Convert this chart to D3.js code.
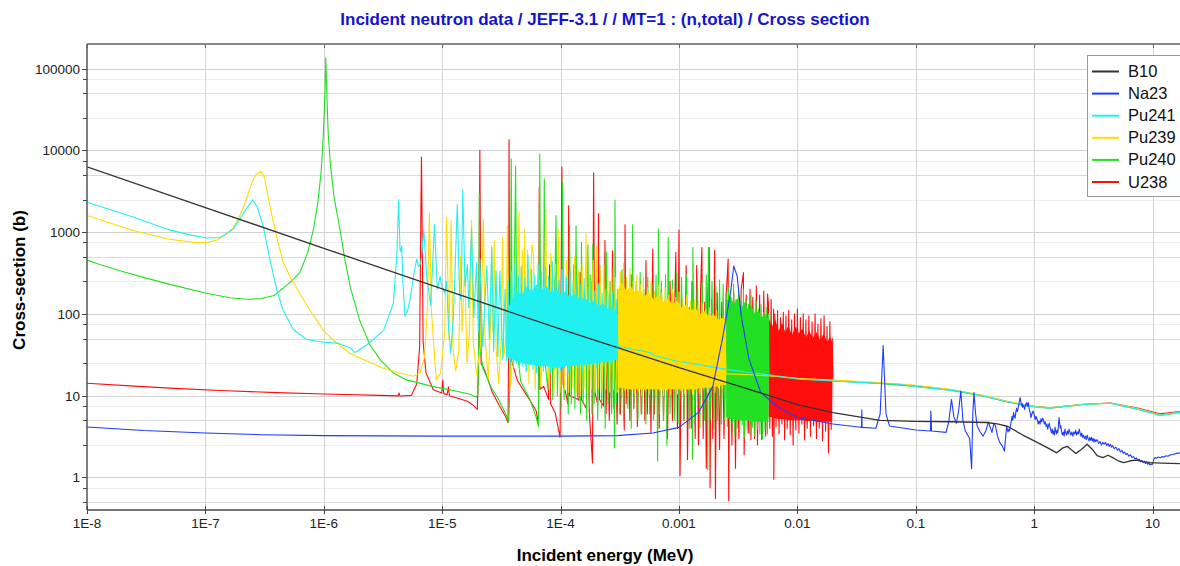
<!DOCTYPE html>
<html>
  <head>
    <title>Incident neutron data / JEFF-3.1 / MT=1</title>
    <!-- Load D3 from site -->
    <script src="https://d3js.org/d3.v7.min.js" charset="utf-8"></script>
    <style type="text/css">
      body { margin: 0; background: #fff; }
      text { font-family: "Liberation Sans", Arial, sans-serif; }
      .tick-label { font-size: 13.5px; fill: #222; }
      .legend-label { font-size: 16.5px; fill: #111; }
    </style>
  </head>

  <body>
    <script type="text/javascript">

      // ---- data (energy in MeV, cross-section in barns) ----
      var seriesNames = ["B10", "Na23", "Pu241", "Pu239", "Pu240", "U238"];

      var xTickValues = [1e-8, 1e-7, 1e-6, 1e-5, 1e-4, 1e-3, 1e-2, 0.1, 1, 10];
      var xTickLabels = ["1E-8", "1E-7", "1E-6", "1E-5", "1E-4", "0.001", "0.01", "0.1", "1", "10"];
      var yTickValues = [1, 10, 100, 1000, 10000, 100000];
      var yTickLabels = ["1", "10", "100", "1000", "10000", "100000"];

      var b10 = [[1e-8,6300],[1e-7,2000],[1e-6,635],[1e-5,202],[1e-4,65],[1e-3,22],[3e-3,13.5],[0.01,7.8],
        [0.02,6.2],[0.05,5.0],[0.1,4.85],[0.2,4.8],[0.4,4.7],[0.5,4.5],[0.6,4.2],[0.8,3.3],[1.0,2.8],[1.3,2.3],
        [1.55,2.0],[1.75,2.3],[1.9,2.4],[2.05,2.2],[2.25,1.97],[2.5,2.2],[2.8,2.55],[3.1,2.2],[3.4,1.85],[3.8,1.75],
        [4.2,1.87],[4.7,1.72],[5.2,1.58],[5.7,1.52],[6.5,1.6],[7.3,1.63],[8.3,1.56],[9.6,1.52],[12,1.5],[17,1.48]];

      var na23 = [[1e-8,4.15],[3e-8,3.75],[1e-7,3.5],[3e-7,3.33],[1e-6,3.25],[1e-5,3.2],[1e-4,3.2],[3e-4,3.25],
        [6e-4,3.5],[1e-3,4.1],[1.47e-3,6.3],[1.93e-3,13],[2.35e-3,53],[2.73e-3,185],[2.9e-3,385],[3.1e-3,290],
        [3.35e-3,95],[3.9e-3,28],[4.9e-3,11],[6.9e-3,7.2],[1e-2,5.4],[2e-2,4.5],[3.3e-2,4.15],[3.48e-2,4.1],
        [3.5e-2,6.7],[3.52e-2,4.1],[4.6e-2,4.0],[5.0e-2,6],[5.3e-2,41],[5.6e-2,6],[6.0e-2,4.25],[0.1,3.8],
        [0.133,3.7],[0.134,6.5],[0.136,3.7],[0.18,3.56],[0.19,4.8],[0.2,9.0],[0.21,5.5],[0.22,4.6],[0.23,6.5],
        [0.24,11.4],[0.25,5],[0.262,3.7],[0.285,3.0],[0.296,1.28],[0.303,6],[0.31,10.9],[0.32,6],[0.33,4.25],
        [0.35,3.6],[0.37,3.2],[0.39,3.7],[0.41,4.76],[0.43,3.9],[0.44,3.56],[0.455,4.5],[0.47,4.3],[0.49,3.2],
        [0.51,2.7],[0.54,2.4],[0.56,2.1],[0.575,3.2],[0.585,4.2],[0.6,3.6],[0.61,3.9],[0.62,3.7],[0.635,4.6],
        [0.65,5.6],[0.66,5.0],[0.67,6.2],[0.68,5.6],[0.69,5.3],[0.7,6.3],[0.71,7.0],[0.72,6.4],[0.73,6.9],
        [0.745,8.2],[0.76,9.5],[0.77,8.6],[0.78,7.5],[0.79,8.0],[0.8,7.2],[0.815,7.6],[0.83,6.8],[0.845,7.7],
        [0.86,8.2],[0.875,7.4],[0.89,8.3],[0.905,7.0],[0.92,6.4],[0.93,6.0],[0.94,5.4],[0.96,6.1],[0.98,6.5],
        [1.0,5.8],[1.02,5.1],[1.035,5.6],[1.05,5.3],[1.07,4.9],[1.08,4.5],[1.1,4.9],[1.12,4.5],[1.14,5.2],
        [1.16,4.8],[1.18,5.3],[1.2,5.0],[1.22,4.5],[1.24,4.8],[1.26,4.2],[1.28,4.5],[1.3,3.9],[1.32,4.3],
        [1.34,4.6],[1.36,4.1],[1.38,3.8],[1.4,3.5],[1.42,3.9],[1.44,3.4],[1.46,3.7],[1.48,3.3],[1.5,4.1],
        [1.52,3.7],[1.54,3.4],[1.56,3.8],[1.58,3.5],[1.6,4.2],[1.62,5.4],[1.64,4.6],[1.66,4.0],[1.68,4.3],
        [1.7,3.7],[1.73,3.3],[1.76,3.6],[1.79,3.2],[1.82,3.9],[1.85,3.5],[1.88,3.3],[1.91,3.7],[1.94,3.4],
        [1.97,3.9],[2.0,3.6],[2.04,3.3],[2.08,3.6],[2.12,3.2],[2.16,3.6],[2.2,3.4],[2.24,3.8],[2.28,3.3],
        [2.32,3.6],[2.36,3.4],[2.4,3.9],[2.44,3.5],[2.48,3.2],[2.52,3.5],[2.56,3.1],[2.6,3.3],[2.65,3.0],
        [2.7,3.2],[2.75,2.9],[2.8,3.3],[2.85,3.0],[2.9,2.8],[2.95,3.1],[3.0,2.85],[3.05,3.1],[3.1,2.8],
        [3.15,3.0],[3.2,2.7],[3.25,2.95],[3.3,2.75],[3.4,2.9],[3.5,2.6],[3.6,2.75],[3.7,2.5],[3.8,2.7],
        [3.9,2.55],[4.0,2.7],[4.1,2.45],[4.2,2.6],[4.3,2.4],[4.4,2.55],[4.5,2.35],[4.6,2.45],[4.75,2.25],
        [4.9,2.35],[5.05,2.15],[5.2,2.25],[5.35,2.05],[5.5,2.15],[5.65,1.98],[5.8,2.05],[5.95,1.9],[6.1,1.97],
        [6.3,1.82],[6.5,1.9],[6.7,1.75],[6.9,1.8],[7.1,1.68],[7.3,1.74],[7.5,1.62],[7.7,1.68],[7.9,1.56],
        [8.1,1.62],[8.3,1.52],[8.5,1.58],[8.7,1.48],[8.9,1.54],[9.1,1.45],[9.3,1.5],[9.5,1.42],[9.7,1.47],
        [9.9,1.43],[10.1,1.55],[10.3,1.7],[10.5,1.76],[10.8,1.72],[11.2,1.78],[11.6,1.74],[12,1.8],[12.5,1.78],
        [13,1.84],[13.5,1.82],[14,1.88],[15,1.92],[16,1.97],[17,2.0]];

      var pu241 = [[1e-8,2320],[2.45e-8,1530],[4.7e-8,1090],[7.5e-8,920],[1.03e-7,850],[1.33e-7,860],
        [1.72e-7,1090],[2.22e-7,1930],[2.5e-7,2480],[2.75e-7,2000],[3.07e-7,1200],[3.5e-7,470],[4e-7,200],
        [4.5e-7,114],[5.5e-7,65],[7.1e-7,49],[9.9e-7,45],[1.3e-6,44],[1.56e-6,40],[1.7e-6,38],[1.84e-6,33.7],
        [2.3e-6,41.7],[3.2e-6,63],[3.87e-6,135],[4.13e-6,506],[4.29e-6,2490],[4.4e-6,610],[4.47e-6,580],
        [4.55e-6,680],[4.65e-6,250],[4.85e-6,94],[5.1e-6,110],[5.35e-6,150],[5.8e-6,330],[6.1e-6,470],
        [6.3e-6,380],[6.6e-6,420],[7.0e-6,1050],[7.4e-6,280],[8.0e-6,128],[8.6e-6,1230],[9.1e-6,200],
        [9.6e-6,288],[9.9e-6,220],[1.05e-5,180],[1.09e-5,250],[1.13e-5,70],[1.18e-5,33],[1.24e-5,90],
        [1.28e-5,290],[1.34e-5,2170],[1.4e-5,180],[1.45e-5,150],[1.49e-5,3320],[1.56e-5,220],[1.63e-5,400],
        [1.68e-5,120],[1.77e-5,1100],[1.85e-5,90],[1.95e-5,420],[2.02e-5,60],[2.08e-5,470],[2.2e-5,40],
        [2.38e-5,390],[2.5e-5,50],[2.62e-5,650],[2.72e-5,35],[2.85e-5,340],[2.95e-5,30],[3.07e-5,335],
        [3.25e-5,28],[3.4e-5,200],
        [3.5e-5,27],[3.6e-5,260],[3.75e-5,24],[3.85e-5,330],[4.0e-5,22],[4.1e-5,420],[4.25e-5,25],[4.4e-5,300],
        [4.5e-5,21],[4.65e-5,380],[4.8e-5,23],[5.0e-5,280],[5.15e-5,20],[5.3e-5,520],[5.5e-5,24],[5.7e-5,350],
        [5.85e-5,21],[6.05e-5,300],[6.25e-5,19],[6.45e-5,420],[6.7e-5,22],[6.9e-5,330],[7.15e-5,20],[7.4e-5,380],
        [7.65e-5,23],[7.9e-5,290],[8.2e-5,19],[8.5e-5,440],[8.8e-5,21],[9.1e-5,320],[9.4e-5,22],[9.7e-5,260],
        [1.0e-4,20],[1.04e-4,350],[1.08e-4,22],[1.12e-4,280],[1.16e-4,19],[1.2e-4,330],[1.24e-4,23],[1.28e-4,250],
        [1.33e-4,21],[1.38e-4,300],[1.43e-4,22],[1.48e-4,230],[1.53e-4,20],[1.58e-4,270],[1.64e-4,23],[1.7e-4,210],
        [1.76e-4,21],[1.82e-4,250],[1.88e-4,24],[1.95e-4,190],[2.02e-4,22],[2.09e-4,230],[2.16e-4,25],[2.24e-4,180],
        [2.32e-4,23],[2.4e-4,200],[2.48e-4,26],[2.57e-4,170],[2.66e-4,24],[2.75e-4,185],[2.85e-4,27],[2.95e-4,150],
        [3.05e-4,40],[5.7e-4,33.7],[6.2e-4,31],[9.5e-4,26.6],[1.47e-3,24],[2.5e-3,21],[3.9e-3,19.2],[6.9e-3,17.4],
        [0.01,16],[0.028,14.7],[0.073,13.8],[0.1,12.9],[0.23,11.4],[0.37,9.9],[0.67,8.1],[0.98,7.35],[1.35,7.05],
        [2.6,7.8],[4.4,8.1],[7.6,6.8],[11.5,5.75],[17,6.3]];
      var pu241Band = [[3.5e-5,30,110],[3.9e-5,28,150],[4.3e-5,26,190],[4.7e-5,25,170],[5.2e-5,24,220],
        [5.7e-5,24,190],[6.3e-5,23,230],[6.9e-5,23,200],[7.6e-5,23,215],[8.4e-5,22,185],[9.2e-5,22,205],
        [1.0e-4,22,175],[1.1e-4,23,190],[1.2e-4,23,160],[1.32e-4,23,175],[1.45e-4,24,150],[1.6e-4,24,160],
        [1.75e-4,24,135],[1.9e-4,25,145],[2.1e-4,25,125],[2.3e-4,26,135],[2.5e-4,26,115],[2.75e-4,27,120],
        [3.05e-4,28,100]];

      var pu239 = [[1e-8,1600],[2.45e-8,1050],[4.7e-8,830],[7.9e-8,750],[1.03e-7,745],[1.25e-7,800],[1.5e-7,950],
        [1.72e-7,1130],[2.0e-7,1700],[2.22e-7,2560],[2.5e-7,4200],[2.7e-7,5150],[2.95e-7,5550],[3.15e-7,4700],
        [3.4e-7,2600],[3.7e-7,1450],[4.1e-7,750],[4.55e-7,425],[5.3e-7,270],[6.3e-7,175],[7.5e-7,115],[8.7e-7,84],
        [1.0e-6,62],[1.2e-6,48],[1.66e-6,33],[2.3e-6,26.5],[3.18e-6,21.7],[4.4e-6,18.9],[5.7e-6,17.3],[6.5e-6,18.9],
        [7.1e-6,30],[7.5e-6,120],[7.8e-6,1700],[8.1e-6,110],[8.9e-6,15.6],[9.7e-6,19],[1.05e-5,60],[1.09e-5,1520],
        [1.14e-5,50],[1.19e-5,1400],[1.23e-5,40],[1.3e-5,20],[1.38e-5,35],[1.43e-5,515],[1.47e-5,60],[1.55e-5,390],
        [1.62e-5,25],[1.7e-5,60],[1.77e-5,1390],[1.83e-5,45],[1.95e-5,18],[2.1e-5,40],[2.23e-5,1450],[2.3e-5,50],
        [2.45e-5,16],[2.55e-5,60],[2.62e-5,680],[2.68e-5,60],[2.75e-5,790],[2.85e-5,40],[3.0e-5,14],[3.15e-5,50],
        [3.23e-5,870],[3.32e-5,30],[3.45e-5,50],[3.55e-5,1200],[3.65e-5,40],[3.8e-5,13],[4.0e-5,60],[4.15e-5,500],
        [4.25e-5,30],[4.45e-5,1760],[4.6e-5,30],[4.76e-5,600],[4.88e-5,25],[4.97e-5,1090],[5.1e-5,20],[5.26e-5,600],
        [5.4e-5,14],[5.56e-5,300],[5.74e-5,700],[5.92e-5,500],[6.1e-5,12],[6.3e-5,100],[6.54e-5,400],[6.8e-5,13],
        [7.2e-5,60],[7.49e-5,1900],[7.7e-5,40],[8.0e-5,12],[8.26e-5,550],[8.54e-5,300],[8.8e-5,11],[9.08e-5,400],
        [9.3e-5,20],[9.65e-5,1090],[9.9e-5,11],[1.03e-4,350],[1.08e-4,12],[1.12e-4,450],[1.17e-4,11],[1.22e-4,300],
        [1.27e-4,12],[1.31e-4,500],[1.36e-4,11],[1.42e-4,350],[1.47e-4,10],[1.52e-4,400],[1.58e-4,12],[1.64e-4,960],
        [1.7e-4,11],[1.76e-4,300],[1.82e-4,12],[1.88e-4,450],[1.95e-4,11],[2.02e-4,680],[2.09e-4,12],[2.16e-4,350],
        [2.24e-4,11],[2.32e-4,400],[2.4e-4,12],[2.5e-4,300],[2.6e-4,11],[2.7e-4,380],[2.8e-4,12],[2.9e-4,280],
        [3.0e-4,11],
        [3.1e-4,12],[3.2e-4,330],[3.3e-4,10.5],[3.4e-4,420],[3.5e-4,11.5],[3.6e-4,280],[3.7e-4,10],[3.85e-4,360],
        [4.0e-4,12],[4.1e-4,250],[4.25e-4,10.5],[4.4e-4,300],[4.55e-4,11.5],[4.7e-4,230],[4.85e-4,10],[5.0e-4,280],
        [5.2e-4,11.5],[5.4e-4,210],[5.6e-4,10.5],[5.8e-4,250],[6.0e-4,12],[6.2e-4,190],[6.4e-4,10.5],[6.65e-4,230],
        [6.9e-4,11.5],[7.15e-4,180],[7.4e-4,10],[7.65e-4,210],[7.9e-4,11.5],[8.2e-4,170],[8.5e-4,10.5],[8.8e-4,200],
        [9.1e-4,12],[9.4e-4,160],[9.7e-4,10.5],[1.0e-3,185],[1.04e-3,11.5],[1.08e-3,150],[1.12e-3,10.5],[1.16e-3,170],
        [1.2e-3,12],[1.25e-3,140],[1.3e-3,10.5],[1.35e-3,150],[1.4e-3,11.5],[1.45e-3,125],[1.5e-3,10.5],[1.56e-3,135],
        [1.62e-3,12],[1.68e-3,115],[1.74e-3,11],[1.8e-3,120],[1.87e-3,12],[1.94e-3,100],[2.01e-3,11],[2.08e-3,110],
        [2.16e-3,12.5],[2.24e-3,95],[2.32e-3,12],[2.41e-3,90],
        [2.5e-3,18.5],[4e-3,18],[7e-3,17.2],[0.01,16.3],[0.02,15.5],[0.05,14.5],[0.1,13.4],[0.2,11.9],[0.37,10.1],
        [0.6,8.5],[1,7.4],[1.35,7.1],[2.6,7.85],[4.4,8.1],[7.6,6.9],[11.5,5.85],[17,6.25]];
      var pu239Band = [[3.05e-4,12.5,200],[3.3e-4,12.5,240],[3.6e-4,12,190],[3.9e-4,12,220],[4.3e-4,12,180],
        [4.7e-4,12,200],[5.1e-4,12,165],[5.6e-4,12,185],[6.1e-4,12,150],[6.7e-4,12,170],[7.3e-4,12,140],
        [8e-4,12,155],[8.8e-4,12,130],[9.6e-4,12,145],[1.05e-3,12,120],[1.15e-3,12,130],[1.26e-3,12,110],
        [1.38e-3,12,118],[1.5e-3,12.5,100],[1.65e-3,12.5,108],[1.8e-3,12.5,92],[1.97e-3,13,98],[2.15e-3,13,85],
        [2.33e-3,13.5,90],[2.5e-3,13.5,80]];

      var pu240 = [[1e-8,455],[1.3e-8,400],[2e-8,330],[3e-8,280],[5e-8,230],[1e-7,180],[1.6e-7,158],[2.3e-7,151],
        [3e-7,154],[3.8e-7,168],[4.6e-7,210],[5.5e-7,262],[6.3e-7,325],[7.3e-7,560],[8.2e-7,1100],[8.9e-7,2300],
        [9.5e-7,5500],[9.9e-7,15000],[1.02e-6,45000],[1.04e-6,136000],[1.06e-6,50000],[1.09e-6,16000],
        [1.14e-6,6500],[1.22e-6,2700],[1.37e-6,1070],[1.5e-6,480],[1.67e-6,216],[2.0e-6,85],[2.45e-6,42],
        [3.0e-6,27.4],[3.9e-6,18.8],[5.0e-6,15.6],[8.4e-6,12.9],[1.3e-5,11.4],[1.72e-5,10.4],[1.95e-5,9.6],
        [2.0e-5,10.5],[2.035e-5,40],[2.055e-5,2950],[2.08e-5,40],[2.2e-5,22],[2.6e-5,12.5],[3.0e-5,9.0],
        [3.4e-5,6.2],[3.65e-5,4.9],[3.76e-5,20],[3.83e-5,7900],[3.9e-5,60],[4.02e-5,70],[4.17e-5,6400],
        [4.27e-5,40],[4.6e-5,15],[5.5e-5,9.0],[6.2e-5,5.5],[6.5e-5,4.2],[6.67e-5,9000],[6.8e-5,35],[7.15e-5,30],
        [7.28e-5,4500],[7.4e-5,25],
        [7.8e-5,12],[8.2e-5,300],[8.6e-5,9],[9.15e-5,1600],[9.4e-5,10],[9.8e-5,250],[1.01e-4,7],[1.04e-4,4100],
        [1.07e-4,9],[1.12e-4,300],[1.16e-4,6],[1.19e-4,1200],[1.23e-4,8],[1.29e-4,400],[1.32e-4,7],[1.35e-4,1200],
        [1.39e-4,9],[1.44e-4,250],[1.47e-4,6],[1.5e-4,750],[1.55e-4,8],[1.62e-4,200],[1.66e-4,5],[1.7e-4,700],
        [1.75e-4,7],[1.8e-4,300],[1.84e-4,6],[1.87e-4,700],[1.92e-4,8],[2.0e-4,250],[2.06e-4,5],[2.15e-4,400],
        [2.22e-4,7],[2.32e-4,200],[2.38e-4,4],[2.45e-4,570],[2.52e-4,8],[2.62e-4,250],[2.7e-4,6],[2.8e-4,180],
        [2.85e-4,2.3],[2.88e-4,2470],[2.95e-4,8],[3.05e-4,200],[3.15e-4,6],[3.3e-4,350],[3.4e-4,5],[3.55e-4,180],
        [3.7e-4,7],[3.85e-4,300],[3.95e-4,4],[4.06e-4,1230],[4.15e-4,7],[4.35e-4,250],[4.5e-4,5],[4.7e-4,320],
        [4.85e-4,6],[5.05e-4,200],[5.25e-4,4.5],[5.45e-4,280],[5.65e-4,6],[5.9e-4,230],[6.1e-4,5],[6.4e-4,300],
        [6.6e-4,1.6],[6.7e-4,1090],[6.85e-4,6],[7.1e-4,250],[7.4e-4,5],[7.7e-4,300],[7.9e-4,2.5],[8.1e-4,860],
        [8.4e-4,6],[8.8e-4,260],[9.2e-4,5],[9.6e-4,320],[1.0e-3,4.5],[1.05e-3,280],[1.1e-3,5],[1.16e-3,300],
        [1.22e-3,4],[1.28e-3,250],[1.3e-3,1.66],[1.31e-3,650],[1.36e-3,5],[1.43e-3,280],[1.5e-3,4],[1.57e-3,240],
        [1.64e-3,5],[1.7e-3,300],[1.75e-3,1.25],[1.77e-3,650],[1.83e-3,5],[1.9e-3,250],[1.97e-3,4],[2.05e-3,220],
        [2.12e-3,5],[2.2e-3,260],[2.28e-3,4.5],[2.36e-3,230],[2.44e-3,5],
        [2.5e-3,180],[2.56e-3,4.2],[2.62e-3,210],[2.68e-3,3.6],[2.75e-3,160],[2.82e-3,4.6],[2.89e-3,230],[2.96e-3,3.3],
        [3.03e-3,150],[3.1e-3,4.0],[3.18e-3,190],[3.26e-3,3.5],[3.34e-3,140],[3.42e-3,4.4],[3.5e-3,200],[3.59e-3,3.1],
        [3.68e-3,150],[3.77e-3,3.9],[3.86e-3,130],[3.96e-3,3.4],[4.06e-3,170],[4.16e-3,4.1],[4.26e-3,120],[4.37e-3,3.2],
        [4.48e-3,140],[4.59e-3,3.9],[4.7e-3,115],[4.82e-3,3.4],[4.94e-3,130],[5.06e-3,3.0],[5.19e-3,105],[5.32e-3,3.8],
        [5.45e-3,120],[5.58e-3,3.4],[5.7e-3,100],
        [5.75e-3,17.5],[0.01,16],[0.02,15.2],[0.05,14.1],[0.1,13.0],[0.2,11.6],[0.37,9.9],[0.6,8.4],[1.0,7.35],
        [1.35,7.05],[2.6,7.8],[4.4,8.1],[7.6,6.8],[11.5,5.75],[17,6.2]];
      var pu240Band = [[2.5e-3,5.5,140],[2.7e-3,5.2,170],[2.9e-3,5.2,130],[3.1e-3,5,155],[3.35e-3,5,120],
        [3.6e-3,5,140],[3.85e-3,5,110],[4.1e-3,4.8,125],[4.4e-3,4.8,100],[4.7e-3,4.8,110],[5e-3,4.8,92],
        [5.35e-3,4.8,100],[5.7e-3,4.8,85]];

      var u238 = [[1e-8,14.2],[2.5e-8,13.1],[6e-8,12.2],[1.5e-7,11.5],[4e-7,10.9],[1e-6,10.5],[3e-6,10.1],
        [4.25e-6,9.95],[4.32e-6,10.8],[4.4e-6,9.9],[5.5e-6,10.1],[6.1e-6,14],[6.45e-6,40],[6.6e-6,1500],
        [6.68e-6,8300],[6.76e-6,1500],[6.9e-6,45],[7.3e-6,19],[8.4e-6,11.8],[9.9e-6,10.8],[1.01e-5,15.5],
        [1.03e-5,10.6],[1.1e-5,10.3],[1.13e-5,12.8],[1.15e-5,10.0],[1.4e-5,9.2],[1.65e-5,8.5],[1.85e-5,7.5],
        [1.98e-5,6.8],[2.03e-5,25],[2.08e-5,10000],[2.13e-5,25],[2.3e-5,20],[2.65e-5,11],[3.05e-5,7.5],
        [3.4e-5,5.7],[3.6e-5,4.7],[3.64e-5,45],[3.67e-5,13500],[3.71e-5,45],[3.85e-5,27],[4.3e-5,15.5],
        [4.8e-5,12],[5.5e-5,8.8],[6.2e-5,6.6],[6.5e-5,4.6],[6.6e-5,3500],[6.7e-5,12],[7.2e-5,13],[7.9e-5,9],
        [8.07e-5,400],[8.2e-5,8],[9.0e-5,6.2],[9.9e-5,3.1],[1.025e-4,6250],[1.05e-4,14],[1.1e-4,11],[1.15e-4,8],
        [1.17e-4,2100],[1.19e-4,10],[1.3e-4,9.5],[1.43e-4,8.8],[1.46e-4,320],[1.5e-4,9],[1.65e-4,7],[1.7e-4,60],
        [1.75e-4,6],[1.86e-4,1.5],[1.9e-4,5300],[1.95e-4,11],[2.05e-4,8],[2.09e-4,1680],[2.13e-4,9],[2.3e-4,7.5],
        [2.37e-4,790],[2.42e-4,6],
        [2.5e-4,45],[2.58e-4,5],[2.75e-4,590],[2.82e-4,7],[2.9e-4,60],[3.0e-4,4.5],[3.1e-4,80],[3.2e-4,6],
        [3.35e-4,50],[3.45e-4,3.8],[3.5e-4,1230],[3.58e-4,8],[3.7e-4,70],[3.85e-4,5],[4.0e-4,300],[4.15e-4,7],
        [4.3e-4,90],[4.45e-4,4.2],[4.6e-4,160],[4.8e-4,6],[5.0e-4,110],[5.15e-4,5],[5.26e-4,450],[5.4e-4,6],
        [5.6e-4,90],[5.8e-4,3.5],[6.0e-4,620],[6.2e-4,6],[6.5e-4,120],[6.8e-4,4],[7.1e-4,200],[7.4e-4,5],
        [7.7e-4,100],[8.0e-4,3],[8.4e-4,250],[8.8e-4,5],[9.4e-4,565],[9.7e-4,4],[1.0e-3,1060],[1.02e-3,1.05],
        [1.06e-3,150],[1.1e-3,5],[1.15e-3,390],[1.18e-3,1.66],[1.22e-3,120],[1.27e-3,4],[1.32e-3,200],[1.37e-3,3],
        [1.41e-3,390],[1.46e-3,2.5],[1.52e-3,180],[1.56e-3,650],[1.6e-3,3],[1.65e-3,140],[1.7e-3,1.3],
        [1.75e-3,170],[1.8e-3,650],[1.83e-3,0.75],[1.88e-3,150],[1.93e-3,3],[2.0e-3,600],[2.03e-3,0.55],
        [2.1e-3,180],[2.2e-3,2.2],[2.3e-3,140],[2.4e-3,3],[2.5e-3,160],[2.6e-3,470],[2.63e-3,0.52],[2.7e-3,140],
        [2.8e-3,2.5],[2.9e-3,180],[3.0e-3,1.3],[3.1e-3,150],[3.2e-3,3],[3.35e-3,200],[3.5e-3,320],[3.55e-3,1.9],
        [3.7e-3,170],[3.85e-3,3.5],[3.98e-3,200],[4.05e-3,2.9],[4.2e-3,160],[4.35e-3,3],[4.5e-3,220],[4.6e-3,2.5],
        [4.8e-3,170],[5.0e-3,2.9],[5.2e-3,190],[5.4e-3,3.2],[5.6e-3,175],
        [5.7e-3,130],[5.85e-3,4],[6.0e-3,150],[6.15e-3,3.2],[6.3e-3,115],[6.32e-3,0.95],[6.45e-3,100],[6.6e-3,4.2],
        [6.8e-3,110],[7.0e-3,3.4],[7.2e-3,90],[7.4e-3,4.5],[7.6e-3,105],[7.8e-3,2.9],[8.0e-3,95],[8.2e-3,4.0],
        [8.45e-3,110],[8.7e-3,3.3],[8.95e-3,85],[9.2e-3,2.5],[9.45e-3,100],[9.7e-3,3.8],[1.0e-2,115],[1.03e-2,3.5],
        [1.06e-2,90],[1.09e-2,4.5],[1.12e-2,100],[1.15e-2,2.9],[1.18e-2,85],[1.21e-2,4.0],[1.25e-2,95],[1.29e-2,3.2],
        [1.33e-2,80],[1.37e-2,4.3],[1.41e-2,100],[1.45e-2,3.0],[1.49e-2,75],[1.53e-2,4.0],[1.58e-2,87],[1.63e-2,2.8],
        [1.68e-2,95],[1.73e-2,3.7],[1.78e-2,70],[1.83e-2,2.0],[1.88e-2,80],[1.93e-2,3.9],[1.97e-2,50],
        [2.0e-2,15.3],[5e-2,14.2],[0.1,13.2],[0.2,11.8],[0.37,10.0],[0.6,8.4],[1.0,7.4],[1.35,7.1],[2.6,7.85],
        [4.4,8.15],[7.6,7.0],[11.5,6.0],[17,6.4]];
      var u238Band = [[5.7e-3,5.5,90],[6.1e-3,5.5,70],[6.5e-3,5.3,85],[6.95e-3,5.2,62],[7.4e-3,5.2,78],
        [7.9e-3,5.1,60],[8.4e-3,5,72],[9e-3,5,55],[9.6e-3,5,70],[1.03e-2,5,58],[1.1e-2,5,66],[1.18e-2,4.9,52],
        [1.26e-2,4.9,62],[1.35e-2,4.9,50],[1.45e-2,4.8,60],[1.55e-2,4.8,48],[1.66e-2,4.8,57],[1.78e-2,4.8,46],
        [1.9e-2,4.8,52],[1.97e-2,4.8,45]];

      var seriesData = [b10, na23, pu241, pu239, pu240, u238];
      var seriesBands = [null, null, pu241Band, pu239Band, pu240Band, u238Band];

      // colours kept apart from the data
      var seriesColors = ["#333333", "#1f3cff", "#22f0f0", "#ffdd00", "#22e022", "#ff0d0d"];

      // ---- layout (note: "top" is a reserved window property, so use plot* names) ----
      var width = 1180, height = 566;
      var plotLeft = 87, plotTop = 44, plotBottom = 510, plotRight = width;
      var decadeX = 118.4;

      var svg = d3.select("body").append("svg")
          .attr("width", width)
          .attr("height", height);

      var x = d3.scaleLog()
          .domain([1e-8, Math.pow(10, -8 + (plotRight - plotLeft) / decadeX)])
          .range([plotLeft, plotRight]);

      var y = d3.scaleLog()
          .domain([0.4, 2e5])
          .range([plotBottom, plotTop]);

      // horizontal grid: decades and 2.5 / 5 / 7.5 subdivisions
      var yMinor = [];
      for (var k = -1; k <= 5; k++) {
        [2.5, 5, 7.5].forEach(function(m) {
          var v = m * Math.pow(10, k);
          if (v > 0.4 && v < 2e5) yMinor.push({ v: v, m: m });
        });
      }

      var grid = svg.append("g");
      grid.selectAll(".hminor")
          .data(yMinor)
          .enter().append("line")
          .attr("x1", plotLeft).attr("x2", plotRight)
          .attr("y1", function(d) { return Math.round(y(d.v)) + 0.5; })
          .attr("y2", function(d) { return Math.round(y(d.v)) + 0.5; })
          .style("stroke", function(d) { return d.m === 5 ? "#dcdcdc" : "#eeeeee"; });

      grid.selectAll(".hmajor")
          .data(yTickValues)
          .enter().append("line")
          .attr("x1", plotLeft).attr("x2", plotRight)
          .attr("y1", function(d) { return Math.round(y(d)) + 0.5; })
          .attr("y2", function(d) { return Math.round(y(d)) + 0.5; })
          .style("stroke", "#d2d2d2");

      grid.selectAll(".vmajor")
          .data(xTickValues.slice(1))
          .enter().append("line")
          .attr("x1", function(d) { return Math.round(x(d)) + 0.5; })
          .attr("x2", function(d) { return Math.round(x(d)) + 0.5; })
          .attr("y1", plotTop).attr("y2", plotBottom)
          .style("stroke", "#d4d4d4");

      // clip the curves to the plot area
      svg.append("clipPath").attr("id", "plot-clip")
          .append("rect")
          .attr("x", plotLeft).attr("y", plotTop)
          .attr("width", plotRight - plotLeft).attr("height", plotBottom - plotTop);

      var line = d3.line()
          .x(function(d) { return x(d[0]); })
          .y(function(d) { return y(d[1]); });

      var band = d3.area()
          .x(function(d) { return x(d[0]); })
          .y0(function(d) { return y(d[1]); })
          .y1(function(d) { return y(d[2]); });

      var plot = svg.append("g").attr("clip-path", "url(#plot-clip)");

      // draw U238 first, B10 last (on top)
      for (var i = seriesNames.length - 1; i >= 0; i--) {
        if (seriesBands[i]) {
          plot.append("path")
              .datum(seriesBands[i])
              .attr("d", band)
              .style("fill", seriesColors[i])
              .style("stroke", "none");
        }
        plot.append("path")
            .datum(seriesData[i])
            .attr("d", line)
            .style("fill", "none")
            .style("stroke", seriesColors[i])
            .style("stroke-width", i === 0 ? 1.3 : 1.1)
            .style("stroke-linejoin", "round");
      }

      // frame: top border, left and bottom axis lines
      svg.append("line")
          .attr("x1", plotLeft).attr("x2", plotRight).attr("y1", plotTop).attr("y2", plotTop)
          .style("stroke", "#888").style("stroke-width", 2);
      svg.append("line")
          .attr("x1", plotLeft).attr("x2", plotLeft).attr("y1", plotTop).attr("y2", plotBottom)
          .style("stroke", "#555").style("stroke-width", 1.5);
      svg.append("line")
          .attr("x1", plotLeft).attr("x2", plotRight).attr("y1", plotBottom).attr("y2", plotBottom)
          .style("stroke", "#444").style("stroke-width", 1.5);

      // x ticks (bottom and top) and labels
      svg.selectAll(".xtick")
          .data(xTickValues)
          .enter().append("line")
          .attr("x1", function(d) { return Math.round(x(d)) + 0.5; })
          .attr("x2", function(d) { return Math.round(x(d)) + 0.5; })
          .attr("y1", plotBottom - 4).attr("y2", plotBottom + 4)
          .style("stroke", "#444");
      svg.selectAll(".xtick-top")
          .data(xTickValues)
          .enter().append("line")
          .attr("x1", function(d) { return Math.round(x(d)) + 0.5; })
          .attr("x2", function(d) { return Math.round(x(d)) + 0.5; })
          .attr("y1", plotTop).attr("y2", plotTop + 4)
          .style("stroke", "#666");
      svg.selectAll(".xlabel")
          .data(xTickValues)
          .enter().append("text")
          .attr("class", "tick-label")
          .attr("x", function(d) { return x(d); })
          .attr("y", 528)
          .attr("text-anchor", "middle")
          .text(function(d, j) { return xTickLabels[j]; });

      // y ticks and labels
      svg.selectAll(".ytick")
          .data(yTickValues)
          .enter().append("line")
          .attr("x1", plotLeft - 5).attr("x2", plotLeft)
          .attr("y1", function(d) { return Math.round(y(d)) + 0.5; })
          .attr("y2", function(d) { return Math.round(y(d)) + 0.5; })
          .style("stroke", "#444");
      svg.selectAll(".ytick-minor")
          .data(yMinor)
          .enter().append("line")
          .attr("x1", plotLeft - 4).attr("x2", plotLeft)
          .attr("y1", function(d) { return Math.round(y(d.v)) + 0.5; })
          .attr("y2", function(d) { return Math.round(y(d.v)) + 0.5; })
          .style("stroke", "#444");
      svg.selectAll(".ylabel")
          .data(yTickValues)
          .enter().append("text")
          .attr("class", "tick-label")
          .attr("x", 80)
          .attr("y", function(d) { return y(d) + 5; })
          .attr("text-anchor", "end")
          .text(function(d, j) { return yTickLabels[j]; });

      // titles
      svg.append("text")
          .attr("x", 605).attr("y", 25)
          .attr("text-anchor", "middle")
          .style("font-size", "17px").style("font-weight", "bold").style("fill", "#1414cc")
          .text("Incident neutron data / JEFF-3.1 / / MT=1 : (n,total) / Cross section");
      svg.append("text")
          .attr("x", 605).attr("y", 561)
          .attr("text-anchor", "middle")
          .style("font-size", "17px").style("font-weight", "bold").style("fill", "#000")
          .text("Incident energy (MeV)");
      svg.append("text")
          .attr("transform", "translate(25," + 280 + ") rotate(-90)")
          .attr("text-anchor", "middle")
          .style("font-size", "17px").style("font-weight", "bold").style("fill", "#000")
          .text("Cross-section (b)");

      // legend
      var legend = svg.append("g");
      legend.append("rect")
          .attr("x", 1087.5).attr("y", 55.5)
          .attr("width", 120).attr("height", 141)
          .style("fill", "#fff").style("stroke", "#999");
      seriesNames.forEach(function(name, j) {
        var ly = 71.5 + j * 22.1;
        legend.append("line")
            .attr("x1", 1092).attr("x2", 1119)
            .attr("y1", ly).attr("y2", ly)
            .style("stroke", seriesColors[j]).style("stroke-width", 2);
        legend.append("text")
            .attr("class", "legend-label")
            .attr("x", 1128).attr("y", ly + 5.5)
            .text(name);
      });

    </script>
  </body>

</html>
